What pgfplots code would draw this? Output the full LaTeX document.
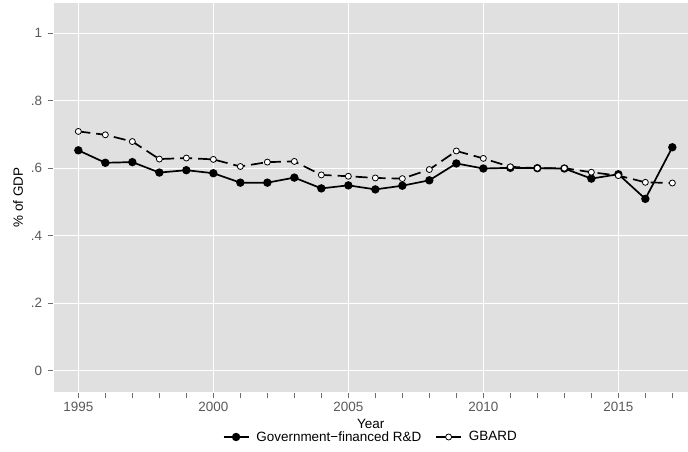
\documentclass[border=0pt]{standalone}
\usepackage{pgfplots}
\pgfplotsset{compat=1.18}
\usepackage{fontspec}
\setmainfont{Liberation Sans}
\definecolor{panel}{RGB}{224,224,224}
\definecolor{ticktext}{RGB}{89,89,89}
\definecolor{tickline}{RGB}{110,110,110}
\pgfplotsset{solidlegend/.style={legend image code/.code={\draw[mark repeat=2,mark phase=2,##1,solid] plot coordinates {(0bp,0bp) (12.5bp,0bp) (25bp,0bp)};}}}
\begin{document}
\begin{tikzpicture}[x=1bp,y=1bp]
\begin{axis}[
  at={(0,0)}, anchor=south west,
  scale only axis, width=634.5bp, height=389bp,
  xmin=1994.08, xmax=2017.58, ymin=-0.064, ymax=1.09,
  axis background/.style={fill=panel},
  axis line style={white, line width=1bp},
  xtick={1995,2000,2005,2010,2015},
  minor xtick={1996,1997,1998,1999,2001,2002,2003,2004,2006,2007,2008,2009,2011,2012,2013,2014,2016,2017},
  ytick={0,0.2,0.4,0.6,0.8,1},
  yticklabels={0,.2,.4,.6,.8,1},
  xticklabels={1995,2000,2005,2010,2015},
  xtick pos=bottom, ytick pos=left,
  tick align=outside,
  major tick length=6bp, minor tick length=6bp,
  tick style={tickline, line width=0.8bp},
  grid=major,
  major grid style={white, line width=1bp},
  tick label style={text=ticktext, font=\fontsize{13.5}{16}\selectfont},
  yticklabel style={xshift=-2bp},
  xticklabel style={yshift=-1bp},
  xlabel={Year}, ylabel={\% of GDP},
  label style={font=\fontsize{13.5}{16}\selectfont},
  xlabel style={at={(axis description cs:0.5,0)}, anchor=center, yshift=-32bp},
  ylabel style={at={(axis description cs:0,0.5)}, anchor=center, yshift=35.5bp},
  legend style={at={(axis description cs:0.5,0)}, anchor=center, yshift=-45bp,
    draw=none, fill=none, font=\fontsize{13.5}{16}\selectfont,
    legend columns=2,
    /tikz/every odd column/.append style={column sep=5bp},
    /tikz/every even column/.append style={column sep=12bp}},
  legend image code/.code={\draw[mark repeat=2,mark phase=2,#1] plot coordinates {(0bp,0bp) (12.5bp,0bp) (25bp,0bp)};},
]
\addplot[black, line width=1.7bp, mark=*, mark size=3.3bp, mark options={solid, fill=black}] coordinates {
(1995,0.653) (1996,0.616) (1997,0.618) (1998,0.587) (1999,0.594) (2000,0.585)
(2001,0.557) (2002,0.557) (2003,0.572) (2004,0.540) (2005,0.549) (2006,0.537)
(2007,0.548) (2008,0.564) (2009,0.614) (2010,0.599) (2011,0.601) (2012,0.600)
(2013,0.599) (2014,0.569) (2015,0.582) (2016,0.509) (2017,0.662)};
\addlegendentry{Government−financed R\&D}
\addplot[black, line width=1.7bp, dash pattern=on 12bp off 6bp, mark=*, mark size=3bp, mark options={solid, fill=white, line width=0.8bp}, solidlegend] coordinates {
(1995,0.709) (1996,0.699) (1997,0.679) (1998,0.627) (1999,0.630) (2000,0.626)
(2001,0.605) (2002,0.618) (2003,0.620) (2004,0.580) (2005,0.576) (2006,0.571)
(2007,0.569) (2008,0.596) (2009,0.651) (2010,0.629) (2011,0.604) (2012,0.600)
(2013,0.600) (2014,0.588) (2015,0.578) (2016,0.558) (2017,0.556)};
\addlegendentry{GBARD}
\end{axis}
\pgfresetboundingbox
\useasboundingbox (-53.5bp,-60bp) rectangle (634.5bp,392bp);
\end{tikzpicture}
\end{document}
